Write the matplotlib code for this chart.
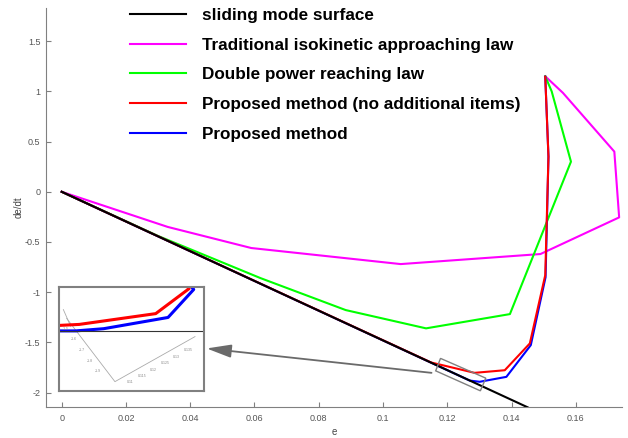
import numpy as np
import matplotlib
matplotlib.use('Agg')
import matplotlib.pyplot as plt
from matplotlib.patches import Polygon
from matplotlib.ticker import FuncFormatter

plt.rcParams['font.family'] = ['Liberation Sans', 'DejaVu Sans']

# phase trajectories (e, de/dt)
surface_e = [0.0, 0.145]
surface_slope = -14.8

iso_e = [0.0, 0.033, 0.059, 0.1055, 0.1490, 0.1735, 0.1720, 0.1560, 0.1505]
iso_s = [0.0, -0.35, -0.56, -0.72, -0.62, -0.255, 0.40, 0.985, 1.15]

dpow_e = [0.0, 0.030, 0.0619, 0.0884, 0.1134, 0.1395, 0.1585, 0.1525, 0.1505]
dpow_s = [0.0, -0.44, -0.86, -1.178, -1.36, -1.218, 0.30, 1.00, 1.15]

prop_na_e = [0.0, 0.115, 0.1285, 0.1379, 0.1457, 0.1505, 0.1515, 0.1505]
prop_na_s = [0.0, -1.70, -1.803, -1.777, -1.51, -0.83, 0.35, 1.146]

prop_e = [0.0, 0.127, 0.1301, 0.1384, 0.1460, 0.1506, 0.1515, 0.1505]
prop_s = [0.0, -1.88, -1.892, -1.843, -1.527, -0.85, 0.35, 1.146]

labels = ['sliding mode surface', 'Traditional isokinetic approaching law',
          'Double power reaching law', 'Proposed method (no additional items)',
          'Proposed method']

x_ticks = [0, 0.02, 0.04, 0.06, 0.08, 0.1, 0.12, 0.14, 0.16]
y_ticks = [-2, -1.5, -1, -0.5, 0, 0.5, 1, 1.5]

surface_s = [surface_slope * v for v in surface_e]

fig = plt.figure(figsize=(6.28, 4.38), dpi=100)
ax = fig.add_axes([0.0732, 0.0715, 0.9168, 0.9102])

lw = 1.5
ax.plot(iso_e, iso_s, color='#ff00ff', lw=lw, label=labels[1], zorder=2)
ax.plot(dpow_e, dpow_s, color='#00ff00', lw=lw, label=labels[2], zorder=2)
ax.plot(prop_e, prop_s, color='#0000ff', lw=lw, label=labels[4], zorder=3)
ax.plot(prop_na_e, prop_na_s, color='#ff0000', lw=lw, label=labels[3], zorder=4)
ax.plot(surface_e, surface_s, color='black', lw=lw, label=labels[0], zorder=5)

ax.set_xlim(-0.0049, 0.1743)
ax.set_ylim(-2.14, 1.83)
ax.set_xticks(x_ticks)
ax.set_yticks(y_ticks)
ax.xaxis.set_major_formatter(FuncFormatter(lambda v, p: '%g' % v))
ax.yaxis.set_major_formatter(FuncFormatter(lambda v, p: '%g' % v))
for side in ['top', 'right']:
    ax.spines[side].set_visible(False)
for side in ['left', 'bottom']:
    ax.spines[side].set_color('#808080')
ax.tick_params(direction='in', length=3.5, width=0.8, color='#808080',
               labelsize=6.5, labelcolor='#555555', pad=4)
ax.tick_params(axis='x', pad=5.5)
ax.set_xlabel('e', fontsize=7, color='#444444', labelpad=3)
ax.set_ylabel('de/dt', fontsize=7, color='#444444', labelpad=1)

# legend in the order of the original figure
h, l = ax.get_legend_handles_labels()
order = [l.index(name) for name in labels]
leg = ax.legend([h[i] for i in order], [l[i] for i in order],
                loc='upper left', bbox_to_anchor=(130 / 628, 1 - 8 / 438),
                bbox_transform=fig.transFigure, frameon=False,
                prop={'family': 'Liberation Sans', 'weight': 'bold', 'size': 12.3},
                handlelength=3.3, handletextpad=0.9, labelspacing=0.86,
                borderpad=0, borderaxespad=0)

# zoom window on the sliding surface
zoom_box = [(0.1179, -1.659), (0.1320, -1.856), (0.1303, -1.982), (0.1164, -1.783)]
ax.add_patch(Polygon(zoom_box, closed=True, fill=False, edgecolor='#808080', lw=1.0, zorder=6))
ax.annotate('', xy=(0.0451, -1.56), xytext=(0.1151, -1.803),
            arrowprops=dict(arrowstyle='-|>,head_length=1.5,head_width=0.4',
                            color='#6a6a6a', lw=1.3, shrinkA=0, shrinkB=0), zorder=6)

# magnified view: trajectories rotated so the sliding surface is horizontal
fig.canvas.draw()
to_px = ax.transData.transform
p0, p1 = to_px([(surface_e[0], surface_s[0]), (surface_e[1], surface_s[1])])
ang = -np.arctan2(p1[1] - p0[1], p1[0] - p0[0])
rot = np.array([[np.cos(ang), -np.sin(ang)], [np.sin(ang), np.cos(ang)]])


def rotated(e, s):
    pts = to_px(np.column_stack([e, s])) - p0
    return (rot @ pts.T)


center = rotated([np.mean([c[0] for c in zoom_box])], [np.mean([c[1] for c in zoom_box])])
cu, cv = center[0][0], center[1][0]

ins = fig.add_axes([59 / 628, 1 - 390.7 / 438, 145.3 / 628, 104 / 438])
ins.set_xticks([])
ins.set_yticks([])
for sp in ins.spines.values():
    sp.set_color('#808080')
    sp.set_linewidth(1.5)

# 3D box axes of the magnified plot
grey = '#aaaaaa'
ins.plot([0.053, 0.385, 0.936], [0.695, 0.087, 0.52], color=grey, lw=0.6,
         transform=ins.transAxes)
ins.plot([0.03, 0.08], [0.78, 0.62], color=grey, lw=0.6, transform=ins.transAxes)
left_vals = ['-1.5', '-1.6', '-1.7', '-1.8', '-1.9']
for k, txt in enumerate(left_vals):
    t = (k + 1) / (len(left_vals) + 1)
    x = 0.053 + t * (0.385 - 0.053)
    y = 0.695 + t * (0.087 - 0.695)
    ins.text(x - 0.06, y, txt, fontsize=2.5, color='#888888', transform=ins.transAxes,
             ha='center', va='center')
right_vals = ['0.11', '0.115', '0.12', '0.125', '0.13', '0.135']
for k, txt in enumerate(right_vals):
    t = (k + 1) / (len(right_vals) + 1)
    x = 0.385 + t * (0.936 - 0.385)
    y = 0.087 + t * (0.52 - 0.087)
    ins.text(x + 0.03, y - 0.07, txt, fontsize=2.5, color='#888888', transform=ins.transAxes,
             ha='center', va='center')

sx, sy = rotated(surface_e, surface_s)
bx, by = rotated(prop_e, prop_s)
ins.plot(bx, by, color='#0000ff', lw=2.2)
ins.plot(sx, sy, color='#333333', lw=0.8)
rx, ry = rotated(prop_na_e, prop_na_s)
ins.plot(rx, ry, color='#ff0000', lw=2.2)
ins.set_xlim(cu + 5, cu + 55)
ins.set_ylim(cv - 85, cv + 60)

fig.savefig('out.png', dpi=100)
